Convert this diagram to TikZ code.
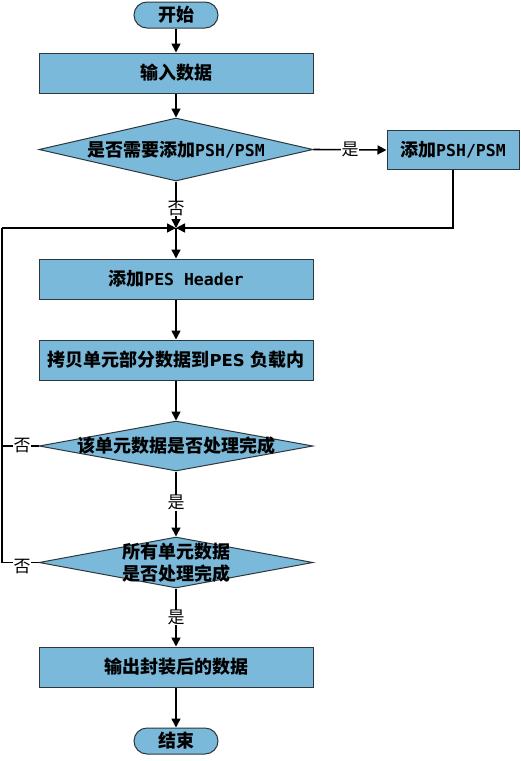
\documentclass[tikz,border=0pt]{standalone}
\usepackage{fontspec}
\newfontfamily\cjk{Noto Sans CJK SC}
\newfontfamily\monof{DejaVu Sans Mono}
\newfontfamily\lsans{DejaVu Sans}
\usetikzlibrary{arrows.meta,shapes.geometric}
\definecolor{boxfill}{RGB}{122,185,217}
\definecolor{boxline}{RGB}{45,55,60}
\newcommand{\latm}[1]{{\monof\bfseries\fontsize{16.5}{19}\selectfont #1}}
\begin{document}
\begin{tikzpicture}[x=1pt,y=-1pt,
  txt/.style={font=\cjk\bfseries\fontsize{18}{20}\selectfont},
  procbox/.style={draw=boxline,fill=boxfill,line width=1pt,minimum width=274pt,minimum height=40pt,inner sep=0pt,txt},
  termbox/.style={draw=boxline,fill=boxfill,line width=1pt,minimum width=84pt,minimum height=26pt,rounded corners=13pt,inner sep=0pt,txt},
  decbox/.style={draw=boxline,fill=boxfill,line width=1pt,diamond,minimum width=274pt,inner sep=0pt},
  lbl/.style={font=\cjk\fontsize{17}{19}\selectfont,fill=white,inner sep=0.5pt},
  conn/.style={line width=1.6pt,black},
  arr/.style={conn,-{Triangle[length=9pt,width=9pt]}}
]
\useasboundingbox (0,0) rectangle (520,761);

\node[termbox] (start) at (176,15) {开始};
\node[procbox] (input) at (176,73) {输入数据};
\node[decbox,minimum height=63pt] (d1) at (176,149.5) {};
\node[txt] (d1t) at (d1.center) {是否需要添加\latm{PSH/PSM}};
\node[procbox,minimum width=132pt,minimum height=39pt] (psh) at (453,150) {添加\latm{PSH/PSM}};
\coordinate (m) at (176,228);
\coordinate (L) at (2,228);
\node[procbox] (pes) at (176,279) {添加\latm{PES Header}};
\node[procbox] (copy) at (176,360) {拷贝单元部分数据到{\lsans\bfseries\fontsize{16.5}{19}\selectfont PES }负载内};
\node[decbox,minimum height=50pt] (d2) at (176,446) {};
\node[txt] (d2t) at (d2.center) {该单元数据是否处理完成};
\node[decbox,minimum height=51pt] (d3) at (176,562.5) {};
\node[txt,align=center,font=\cjk\bfseries\fontsize{18}{22}\selectfont] (d3t) at (d3.center) {所有单元数据\\是否处理完成};
\node[procbox] (out) at (176,667) {输出封装后的数据};
\node[termbox] (end) at (176,741) {结束};

\draw[arr] (start) -- (input);
\draw[arr] (input) -- (d1);
\draw[arr] (d1.east) -- (psh.west) node[lbl,pos=0.5] (y1) {是};
\draw[arr] (d1.south) -- (m) node[lbl,pos=0.58] (n1) {否};
\draw[arr] (psh.south) |- (m);
\draw[arr] (L) -- (m);
\draw[arr] (m) -- (pes);
\draw[arr] (pes) -- (copy);
\draw[arr] (copy) -- (d2);
\draw[conn] (d2.west) -- (2,446) -- (L);
\node[lbl] (n2) at (22,446) {否};
\draw[conn] (d3.west) -- (2,562.5) -- (2,446);
\node[lbl] (n3) at (22,567) {否};
\draw[arr] (d2.south) -- (d3.north) node[lbl,pos=0.48] (y2) {是};
\draw[arr] (d3.south) -- (out.north) node[lbl,pos=0.5] (y3) {是};
\draw[arr] (out) -- (end);
\end{tikzpicture}
\end{document}
